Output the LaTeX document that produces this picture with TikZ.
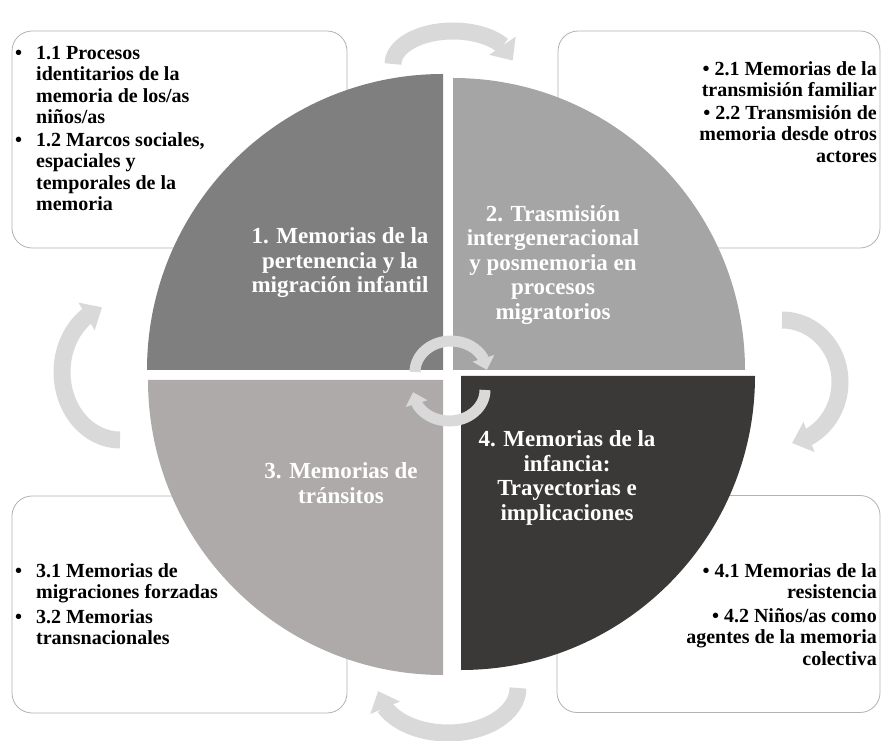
\documentclass[tikz,border=0pt]{standalone}
\usepackage{fontspec}
\setmainfont{Liberation Serif}
\usetikzlibrary{arrows.meta,bending}

\definecolor{qone}{HTML}{7F7F7F}
\definecolor{qtwo}{HTML}{A5A5A5}
\definecolor{qthree}{HTML}{AEAAAA}
\definecolor{qfour}{HTML}{3B3838}
\definecolor{arrowgray}{HTML}{D9D9D9}

\newcommand{\itm}{\makebox[21pt][l]{\textbullet}}
\newcommand{\ind}{\hspace*{21pt}}

\begin{document}
\begin{tikzpicture}[x=1pt, y=1pt,
    box/.style={draw=gray!60, rounded corners=20pt, line width=0.8pt, fill=white, minimum width=335pt, minimum height=217pt},
    sub/.style={inner sep=0pt, font=\fontsize{20}{21.5}\selectfont\bfseries},
    title/.style={inner sep=0pt, text=white, align=center, font=\fontsize{23}{24.5}\selectfont\bfseries},
    bigarrow/.style={arrowgray, line width=17pt, -{Triangle[width=31pt,length=18pt]}},
    smallarrow/.style={arrowgray, line width=11pt, -{Triangle[width=22pt,length=12pt]}}]

    \useasboundingbox (0,0) rectangle (881,740);

    % Boxes
    \node[box] (b1) at (179.5,600.5) {};
    \node[box, minimum width=322pt] (b2) at (719,600.5) {};
    \node[box] (b3) at (179.5,135.5) {};
    \node[box, minimum width=323pt] (b4) at (718.5,136) {};

    % Outer arrows
    \coordinate (arrT) at (453,676);
    \coordinate (arrR) at (782,358);
    \coordinate (arrB) at (448,52);
    \coordinate (arrL) at (120,368);

    \draw[bigarrow] ([shift={(180:60 and 33)}]arrT) arc[start angle=180, end angle=6, x radius=60, y radius=33];
    \draw[bigarrow] ([shift={(90:58 and 62)}]arrR) arc[start angle=90, end angle=-80, x radius=58, y radius=62];
    \draw[bigarrow] ([shift={(0:70 and 45)}]arrB) arc[start angle=0, end angle=-176, x radius=70, y radius=45];
    \draw[bigarrow] ([shift={(270:58 and 68)}]arrL) arc[start angle=270, end angle=108, x radius=58, y radius=68];

    % Quarters
    \coordinate (c1) at (443,370);
    \coordinate (c2) at (453,370);
    \coordinate (c3) at (443,360);
    \coordinate (c4) at (461,364);

    \fill[qone] (c1) -- ++(90:296) arc[start angle=90, end angle=180, radius=296] -- cycle;
    \fill[qtwo] (c2) -- ++(0:292) arc[start angle=0, end angle=90, radius=292] -- cycle;
    \fill[qthree] (c3) -- ++(180:295) arc[start angle=180, end angle=270, radius=295] -- cycle;
    \fill[qfour] (c4) -- ++(270:294) arc[start angle=270, end angle=360, radius=294] -- cycle;

    % Middle arrows
    \coordinate (midT) at (451,368);
    \coordinate (midB) at (449,350);
    \draw[smallarrow] ([shift={(180:36 and 31)}]midT) arc[start angle=180, end angle=4, x radius=36, y radius=31];
    \draw[smallarrow] ([shift={(0:36 and 31)}]midB) arc[start angle=0, end angle=-176, x radius=36, y radius=31];

    % Titles
    \node[title] (q1) at (340,477) {1. Memorias de la\\pertenencia y la\\migración infantil};
    \node[title] (q2) at (553,475) {2. Trasmisión\\intergeneracional\\y posmemoria en\\procesos\\migratorios};
    \node[title] (q3) at (341,257) {3. Memorias de\\tránsitos};
    \node[title] (q4) at (567,262) {4. Memorias de la\\infancia:\\Trayectorias e\\implicaciones};

    % Texts
    \node[sub, align=left, anchor=north west] (t1) at (15,694)
        {\itm 1.1 Procesos\\\ind identitarios de la\\\ind memoria de los/as\\\ind niños/as\\[1pt]
         \itm 1.2 Marcos sociales,\\\ind espaciales y\\\ind temporales de la\\\ind memoria};
    \node[sub, align=right, anchor=north east] (t2) at (877,679)
        {\textbullet\ 2.1 Memorias de la\\transmisión familiar\\[1pt]\textbullet\ 2.2 Transmisión de\\memoria desde otros\\actores};
    \node[sub, align=left, anchor=north west] (t3) at (15,177)
        {\itm 3.1 Memorias de\\\ind migraciones forzadas\\[3pt]\itm 3.2 Memorias\\\ind transnacionales};
    \node[sub, align=right, anchor=north east] (t4) at (877,177)
        {\textbullet\ 4.1 Memorias de la\\resistencia\\[2pt]\textbullet\ 4.2 Niños/as como\\agentes de la memoria\\colectiva};

\end{tikzpicture}
\end{document}
